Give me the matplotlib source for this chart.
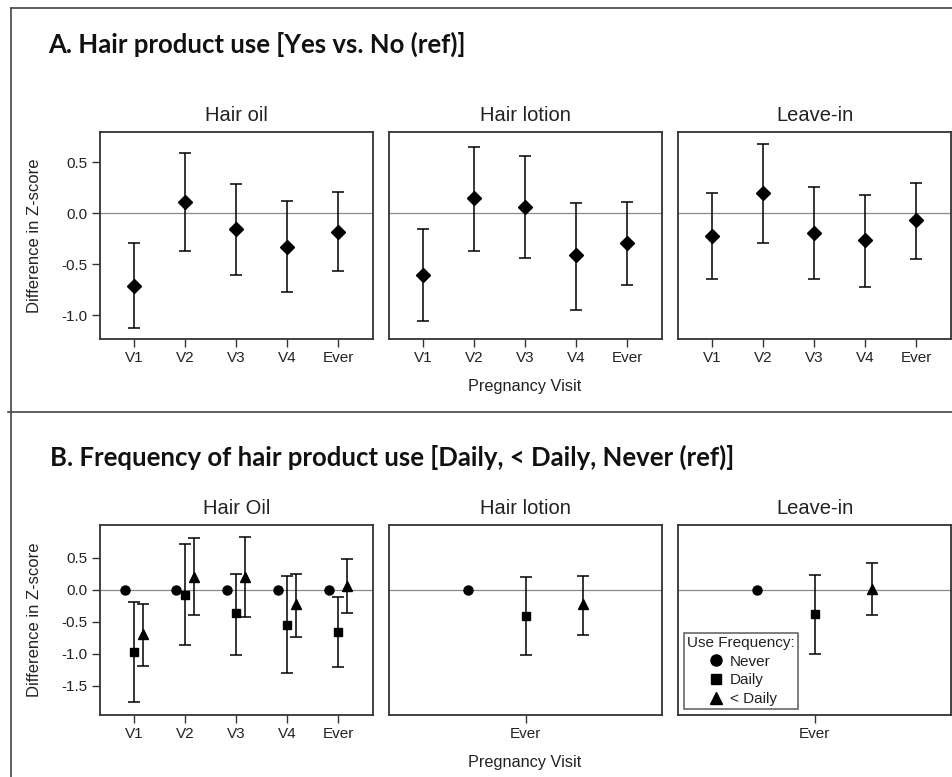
import numpy as np
import matplotlib
matplotlib.use('Agg')
import matplotlib.pyplot as plt
from matplotlib.lines import Line2D

# Panel A: Yes vs No (ref), estimate with lower/upper CI
visits = ['V1', 'V2', 'V3', 'V4', 'Ever']

oil_est = [-0.71, 0.11, -0.15, -0.33, -0.18]
oil_lo = [-1.12, -0.37, -0.60, -0.77, -0.57]
oil_hi = [-0.29, 0.59, 0.29, 0.12, 0.21]

lotion_est = [-0.60, 0.15, 0.065, -0.41, -0.29]
lotion_lo = [-1.06, -0.37, -0.44, -0.95, -0.70]
lotion_hi = [-0.15, 0.65, 0.565, 0.10, 0.11]

leavein_est = [-0.22, 0.20, -0.19, -0.265, -0.065]
leavein_lo = [-0.64, -0.29, -0.64, -0.72, -0.45]
leavein_hi = [0.20, 0.68, 0.26, 0.18, 0.30]

# Panel B: Daily / < Daily vs Never (ref)
oil_daily_est = [-0.98, -0.08, -0.37, -0.55, -0.66]
oil_daily_lo = [-1.76, -0.86, -1.02, -1.31, -1.21]
oil_daily_hi = [-0.20, 0.72, 0.25, 0.21, -0.12]
oil_less_est = [-0.70, 0.20, 0.20, -0.23, 0.06]
oil_less_lo = [-1.19, -0.39, -0.43, -0.74, -0.37]
oil_less_hi = [-0.22, 0.80, 0.82, 0.25, 0.48]

ever_only = ['Ever']
lotion_daily_est = [-0.41]
lotion_daily_lo = [-1.02]
lotion_daily_hi = [0.19]
lotion_less_est = [-0.23]
lotion_less_lo = [-0.71]
lotion_less_hi = [0.21]

leavein_daily_est = [-0.385]
leavein_daily_lo = [-1.00]
leavein_daily_hi = [0.235]
leavein_less_est = [0.015]
leavein_less_lo = [-0.39]
leavein_less_hi = [0.41]

freq_labels = ['Never', 'Daily', '< Daily']

SPINE = '#333333'
TEXT = '#222222'

plt.rcParams['font.family'] = ['Liberation Sans', 'DejaVu Sans']
plt.rcParams['axes.unicode_minus'] = False


def style_axes(ax, yticks, show_y):
    for s in ax.spines.values():
        s.set_color(SPINE)
        s.set_linewidth(1.3)
    ax.axhline(0, color='#8a8a8a', lw=0.9, zorder=1)
    ax.tick_params(direction='out', length=6, width=1, colors=SPINE,
                   labelsize=11, labelcolor=TEXT, pad=3)
    if show_y:
        ax.set_yticks(yticks)
        ax.set_yticklabels(['%.1f' % v for v in yticks])
    else:
        ax.set_yticks([])


def errbar(ax, x, est, lo, hi, marker, ms):
    est = np.array(est)
    yerr = [est - np.array(lo), np.array(hi) - est]
    ax.errorbar(x, est, yerr=yerr, fmt=marker, color='black', ms=ms,
                capsize=4.5, elinewidth=1.1, capthick=1.1, zorder=3)


def main():
    fig = plt.figure(figsize=(9.52, 7.77), dpi=100)
    W, H = 952.0, 777.0

    def fx(px):
        return px / W

    def fy(py):
        return 1 - py / H

    lefts = [100, 389, 678]
    width = 273

    # ---- Panel A
    a_data = [('Hair oil', oil_est, oil_lo, oil_hi),
              ('Hair lotion', lotion_est, lotion_lo, lotion_hi),
              ('Leave-in', leavein_est, leavein_lo, leavein_hi)]
    x = np.arange(1, len(visits) + 1)
    for i, (title, est, lo, hi) in enumerate(a_data):
        ax = fig.add_axes([fx(lefts[i]), fy(339), width / W, (339 - 132) / H])
        errbar(ax, x, est, lo, hi, 'D', 7.2)
        ax.set_xlim(1 - 34 / 51.0, 1 - 34 / 51.0 + width / 51.0)
        ax.set_ylim(-1.232, 0.797)
        ax.set_xticks(x)
        ax.set_xticklabels(visits)
        style_axes(ax, [-1.0, -0.5, 0.0, 0.5], i == 0)
        ax.set_title(title, fontsize=14.5, color=TEXT, pad=8)

    # ---- Panel B
    off = 0.17
    ax = fig.add_axes([fx(lefts[0]), fy(715), width / W, (715 - 525) / H])
    ax.plot(x - off, np.zeros(len(x)), 'o', color='black', ms=6.5, zorder=3)
    errbar(ax, x, oil_daily_est, oil_daily_lo, oil_daily_hi, 's', 6)
    errbar(ax, x + off, oil_less_est, oil_less_lo, oil_less_hi, '^', 7)
    ax.set_xlim(1 - 34 / 51.0, 1 - 34 / 51.0 + width / 51.0)
    ax.set_ylim(-1.96, 1.01)
    ax.set_xticks(x)
    ax.set_xticklabels(visits)
    style_axes(ax, [-1.5, -1.0, -0.5, 0.0, 0.5], True)
    ax.set_title('Hair Oil', fontsize=14.5, color=TEXT, pad=8)

    b_single = [('Hair lotion', lotion_daily_est, lotion_daily_lo, lotion_daily_hi,
                 lotion_less_est, lotion_less_lo, lotion_less_hi),
                ('Leave-in', leavein_daily_est, leavein_daily_lo, leavein_daily_hi,
                 leavein_less_est, leavein_less_lo, leavein_less_hi)]
    off1 = 0.212
    for i, (title, de, dl, dh, le, ll, lh) in enumerate(b_single):
        ax = fig.add_axes([fx(lefts[i + 1]), fy(715), width / W, (715 - 525) / H])
        x1 = np.arange(1, len(ever_only) + 1)
        ax.plot(x1 - off1, np.zeros(len(x1)), 'o', color='black', ms=6.5, zorder=3)
        errbar(ax, x1, de, dl, dh, 's', 6)
        errbar(ax, x1 + off1, le, ll, lh, '^', 7)
        ax.set_xlim(0.5, 1.5)
        ax.set_ylim(-1.96, 1.01)
        ax.set_xticks(x1)
        ax.set_xticklabels(ever_only)
        style_axes(ax, [], False)
        ax.set_title(title, fontsize=14.5, color=TEXT, pad=8)
        if title == 'Leave-in':
            handles = [Line2D([], [], ls='none', marker=m, color='black', ms=s)
                       for m, s in zip(['o', 's', '^'], [8, 7.5, 8.5])]
            leg = ax.legend(handles, freq_labels, title='Use Frequency:',
                            loc='lower left', bbox_to_anchor=(0.022, 0.032),
                            borderaxespad=0, fontsize=11, title_fontsize=11,
                            frameon=True, fancybox=False, handlelength=3.8,
                            handletextpad=-1.0, labelspacing=0.3,
                            borderpad=0.2, alignment='left')
            leg.get_frame().set_edgecolor(SPINE)
            leg.get_frame().set_linewidth(1.1)
            for t in leg.get_texts():
                t.set_color(TEXT)
            leg.get_title().set_color(TEXT)

    # ---- shared labels
    fig.text(fx(35), fy(236), 'Difference in Z-score', rotation=90,
             ha='center', va='center', fontsize=12, color=TEXT)
    fig.text(fx(35), fy(620), 'Difference in Z-score', rotation=90,
             ha='center', va='center', fontsize=12, color=TEXT)
    fig.text(fx(525), fy(386), 'Pregnancy Visit', ha='center', va='center',
             fontsize=11.7, color=TEXT)
    fig.text(fx(525), fy(763), 'Pregnancy Visit', ha='center', va='center',
             fontsize=11.7, color=TEXT)

    fig.text(fx(48), fy(44), 'A. Hair product use [Yes vs. No (ref)]',
             ha='left', va='center', fontsize=18.5, fontweight='bold',
             family='Lato', color='#111111')
    fig.text(fx(50), fy(457), 'B. Frequency of hair product use [Daily, < Daily, Never (ref)]',
             ha='left', va='center', fontsize=18.5, fontweight='bold',
             family='Lato', color='#111111')

    # outer frame and panel separator
    frame = dict(color='#444444', lw=1.2, transform=fig.transFigure)
    fig.add_artist(Line2D([fx(10.5), 1], [fy(8), fy(8)], **frame))
    fig.add_artist(Line2D([fx(10.5), fx(10.5)], [0, fy(8)], **frame))
    fig.add_artist(Line2D([fx(8), 1], [fy(412), fy(412)], **frame))

    plt.savefig('out.png', dpi=100)


if __name__ == "__main__":
    main()
